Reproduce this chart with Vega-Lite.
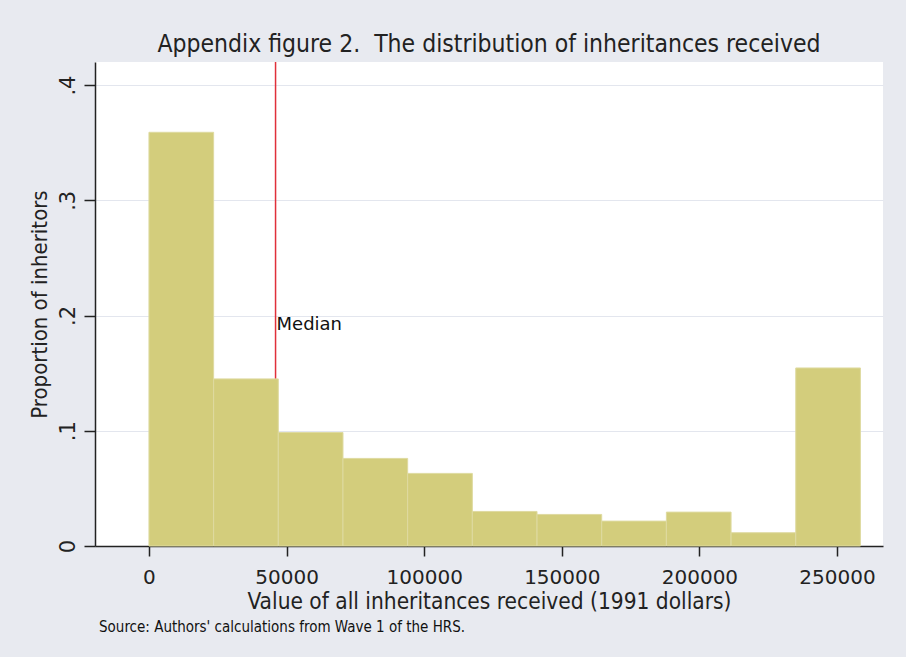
{
  "$schema": "https://vega.github.io/schema/vega-lite/v6.json",
  "background": "#e8eaf0",
  "padding": {"left": 27, "top": 31, "right": 23, "bottom": 22},
  "config": {
    "font": "DejaVu Sans Condensed, Liberation Sans, sans-serif",
    "view": {"fill": "white", "stroke": null}
  },
  "title": {
    "text": "Source: Authors' calculations from Wave 1 of the HRS.",
    "orient": "bottom",
    "anchor": "start",
    "fontSize": 15,
    "fontWeight": "normal",
    "color": "#111",
    "offset": 7,
    "dx": 71
  },
  "vconcat": [
    {
      "width": 788,
      "height": 484,
      "title": {
        "text": "Appendix figure 2.\u00a0 The distribution of inheritances received",
        "anchor": "middle",
        "frame": "group",
        "fontSize": 24.5,
        "fontWeight": "normal",
        "color": "#222",
        "offset": 4
      },
      "layer": [
        {
          "data": {"values": [{"median": 46000}]},
          "mark": {"type": "rule", "color": "#e0303a", "strokeWidth": 1.5},
          "encoding": {
            "x": {"field": "median", "type": "quantitative", "scale": {"domain": [-19600, 266700], "nice": false, "zero": false}}
          }
        },
        {
          "data": {
            "values": [
              {"bin_start": 0, "bin_end": 23500, "proportion": 0.359},
              {"bin_start": 23500, "bin_end": 47000, "proportion": 0.145},
              {"bin_start": 47000, "bin_end": 70500, "proportion": 0.0985},
              {"bin_start": 70500, "bin_end": 94000, "proportion": 0.076},
              {"bin_start": 94000, "bin_end": 117500, "proportion": 0.063},
              {"bin_start": 117500, "bin_end": 141000, "proportion": 0.030},
              {"bin_start": 141000, "bin_end": 164500, "proportion": 0.0274},
              {"bin_start": 164500, "bin_end": 188000, "proportion": 0.0216},
              {"bin_start": 188000, "bin_end": 211500, "proportion": 0.0294},
              {"bin_start": 211500, "bin_end": 235000, "proportion": 0.0115},
              {"bin_start": 235000, "bin_end": 258500, "proportion": 0.1545}
            ]
          },
          "mark": {"type": "bar", "fill": "#d3cd7c", "stroke": "#dedaa0", "strokeWidth": 1},
          "encoding": {
            "x": {
              "field": "bin_start",
              "type": "quantitative",
              "scale": {"domain": [-19600, 266700], "nice": false, "zero": false},
              "axis": {
                "title": "Value of all inheritances received (1991 dollars)",
                "titleFontSize": 22.5,
                "titleFontWeight": "normal",
                "titleColor": "#222",
                "titlePadding": 3,
                "values": [0, 50000, 100000, 150000, 200000, 250000],
                "format": "d",
                "labelFont": "DejaVu Sans",
                "labelFontSize": 20,
                "labelColor": "#222",
                "labelPadding": 11,
                "labelFlush": false,
                "tickSize": 10,
                "tickColor": "#222",
                "tickWidth": 1.5,
                "domainColor": "#222",
                "domainWidth": 1.5,
                "grid": false
              }
            },
            "x2": {"field": "bin_end"},
            "y": {
              "field": "proportion",
              "type": "quantitative",
              "scale": {"domain": [0, 0.42], "nice": false},
              "axis": {
                "title": "Proportion of inheritors",
                "titleFontSize": 22,
                "titleFontWeight": "normal",
                "titleColor": "#222",
                "titlePadding": 6,
                "values": [0, 0.1, 0.2, 0.3, 0.4],
                "labelExpr": "datum.value == 0 ? '0' : replace(format(datum.value, '.1f'), '0.', '.')",
                "labelAngle": -90,
                "labelAlign": "center",
                "labelBaseline": "bottom",
                "labelFont": "DejaVu Sans",
                "labelFontSize": 21,
                "labelColor": "#222",
                "labelPadding": 6,
                "tickSize": 11,
                "tickColor": "#222",
                "tickWidth": 1.5,
                "domainColor": "#222",
                "domainWidth": 1.5,
                "grid": true,
                "gridColor": "#e3e6ee",
                "gridWidth": 1.2
              }
            },
            "y2": {"datum": 0}
          }
        },
        {
          "data": {"values": [{"median": 46000, "y": 0.192, "label": "Median"}]},
          "mark": {"type": "text", "align": "left", "baseline": "middle", "dx": 1, "font": "DejaVu Sans", "fontSize": 18, "color": "#111"},
          "encoding": {
            "x": {"field": "median", "type": "quantitative"},
            "y": {"field": "y", "type": "quantitative"},
            "text": {"field": "label"}
          }
        }
      ]
    }
  ]
}
